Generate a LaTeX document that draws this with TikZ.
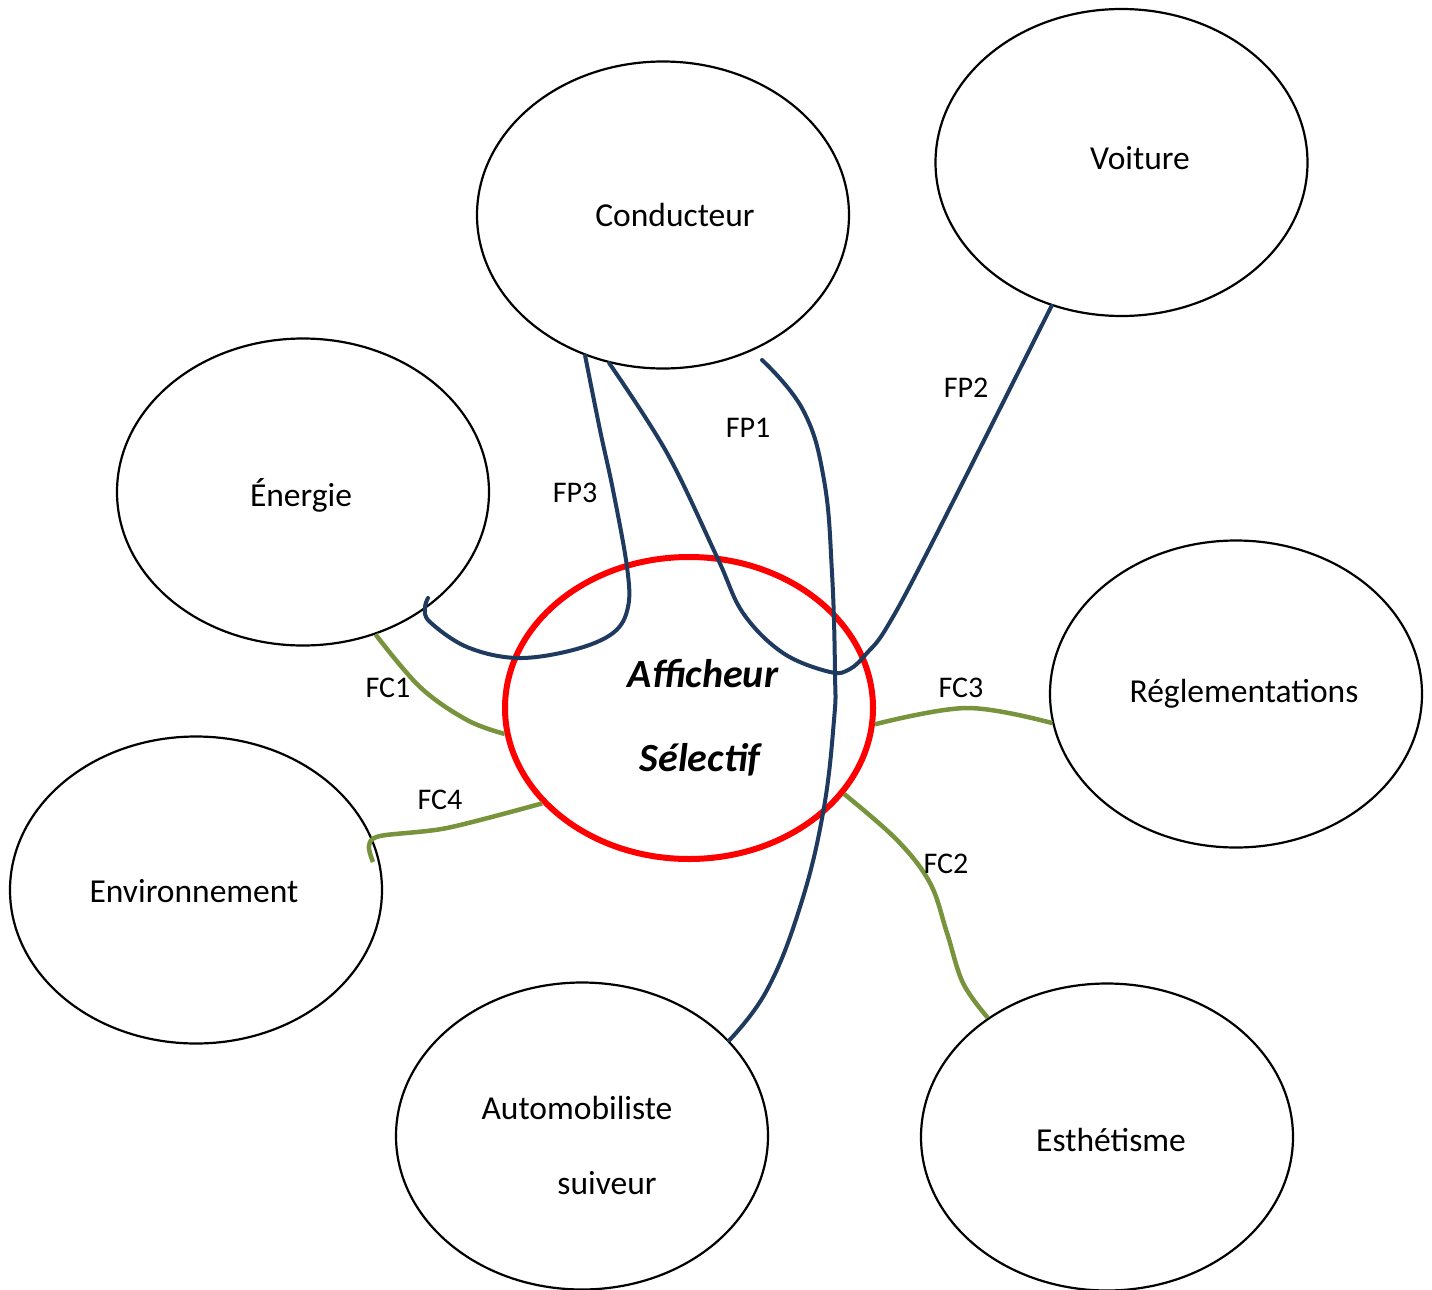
\documentclass[tikz,border=0pt]{standalone}
\usepackage{fontspec}
\setmainfont{Carlito}
\usetikzlibrary{shapes.geometric}
\definecolor{navy}{HTML}{1F3A5F}
\definecolor{olive}{HTML}{77933C}
\definecolor{redring}{HTML}{FF0000}
\tikzset{
  bubble/.style={draw=black, line width=2.2pt, ellipse, minimum width=372pt, minimum height=307pt, inner sep=0pt},
  core/.style={draw=redring, line width=6pt, ellipse, minimum width=368pt, minimum height=302pt, inner sep=0pt},
  txt/.style={font=\fontsize{33.5}{40}\selectfont, inner sep=0pt},
  coretxt/.style={font=\fontsize{40}{46}\selectfont\bfseries\itshape, inner sep=0pt},
  lbl/.style={font=\fontsize{30}{36}\selectfont, inner sep=0pt},
  fp/.style={draw=navy, line width=4pt, line cap=round},
  fc/.style={draw=olive, line width=4.5pt},
}
\begin{document}
\begin{tikzpicture}[x=1pt,y=-1pt]
\useasboundingbox (0,0) rectangle (1432,1290);
\fill[white] (0,0) rectangle (1432,1290);
% nodes
\node[bubble] (cond) at (663,215) {};
\node[bubble] (voit) at (1121.5,162.5) {};
\node[bubble] (ener) at (303,492) {};
\node[bubble] (regl) at (1236,694) {};
\node[bubble] (envi) at (196,890) {};
\node[bubble] (auto) at (582,1136) {};
\node[bubble] (esth) at (1107,1137) {};
\node[core] (aff) at (689,708) {};
% texts
\node[txt] (tcond) at (675,215) {Conducteur};
\node[txt] (tvoit) at (1140,158) {Voiture};
\node[txt] (tener) at (301,495) {Énergie};
\node[txt] (tregl) at (1244,694) {Réglementations};
\node[txt] (tenvi) at (194,891) {Environnement};
\node[txt] (tauto1) at (577,1108) {Automobiliste};
\node[txt] (tauto2) at (607,1183) {suiveur};
\node[txt] (testh) at (1111,1140) {Esthétisme};
\node[coretxt] (taff1) at (703,674) {Afficheur};
\node[coretxt] (taff2) at (700,760) {Sélectif};
% connectors
\draw[fp] plot[smooth, tension=0.6] coordinates {(cond.-119) (600,430) (613,490) (627,567) (628,607) (613,633) (573,650) (517,658) (467,647) (430,622) (425,608) (428,598)};
\draw[fp] plot[smooth, tension=0.6] coordinates {(cond.-110.5) (667,453) (717,557) (743,613) (783,653) (830,672) (850,669) (867,653) (887,627) (930,547) (voit.-116.6)};
\draw[fp] plot[smooth, tension=0.7] coordinates {(762,360) (803,410) (824,480) (832,573) (835,673) (834,720) (823,813) (800,907) (767,990) (auto.33.4)};
\draw[fc] plot[smooth, tension=0.6] coordinates {(ener.-63.9) (420,687) (467,720) (aff.188.3)};
\draw[fc] plot[smooth, tension=0.5] coordinates {(aff.-147.9) (447,828) (380,836) (369,846) (373,862)};
\draw[fc] plot[smooth, tension=0.6] coordinates {(aff.-5.5) (967,708) (regl.189.9)};
\draw[fc] plot[smooth, tension=0.6] coordinates {(aff.-29) (897,840) (930,883) (947,933) (963,983) (esth.135)};
% labels
\node[lbl] (lfp3) at (575,493) {FP3};
\node[lbl] (lfp1) at (748,428) {FP1};
\node[lbl] (lfp2) at (966,388) {FP2};
\node[lbl] (lfc1) at (388,688) {FC1};
\node[lbl] (lfc4) at (440,800) {FC4};
\node[lbl] (lfc3) at (961,688) {FC3};
\node[lbl] (lfc2) at (946,864) {FC2};
\end{tikzpicture}
\end{document}
